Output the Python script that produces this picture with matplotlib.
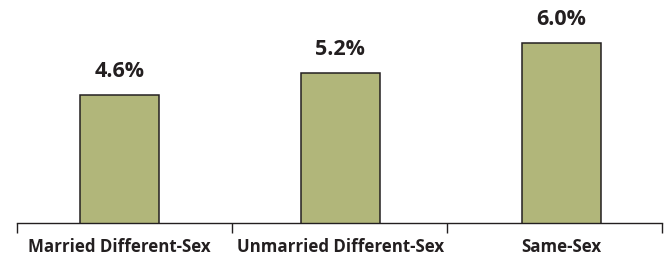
import matplotlib.pyplot as plt

categories = ['Married Different-Sex', 'Unmarried Different-Sex', 'Same-Sex']
values = [4.6, 5.2, 6.0]
value_labels = ['4.6%', '5.2%', '6.0%']

BAR_COLOR = '#b1b67a'
INK = '#231f20'

plt.rcParams['font.family'] = ['Open Sans', 'DejaVu Sans']

fig = plt.figure(figsize=(6.68, 2.57), dpi=100)
ax = fig.add_axes([17 / 668, 34.5 / 257, 645 / 668, 222.5 / 257])

x = range(len(categories))
bars = ax.bar(x, values, width=0.358, color=BAR_COLOR, edgecolor=INK, linewidth=1.1)

for rect, lab in zip(bars, value_labels):
    ax.annotate(lab, (rect.get_x() + rect.get_width() / 2, rect.get_height()),
                xytext=(0, 9.5), textcoords='offset points', ha='center', va='bottom',
                fontsize=15.5, fontweight='bold', color=INK)

ax.set_xlim(-0.464, 2.457)
ax.set_ylim(1.15, 7.17)

# separators between categories on the axis
ax.set_xticks([-0.464, 0.51, 1.483, 2.457])
ax.set_xticklabels([])
ax.tick_params(axis='x', which='major', direction='out', length=7.2, width=1, color=INK)
ax.set_xticks(list(x), minor=True)
ax.set_xticklabels(categories, minor=True, fontsize=12.2, fontweight='bold', color=INK)
ax.tick_params(axis='x', which='minor', length=0, pad=11)

ax.set_yticks([])
for s in ['top', 'right', 'left']:
    ax.spines[s].set_visible(False)
ax.spines['bottom'].set_color(INK)
ax.spines['bottom'].set_linewidth(1)

fig.savefig('out.png', dpi=100)
